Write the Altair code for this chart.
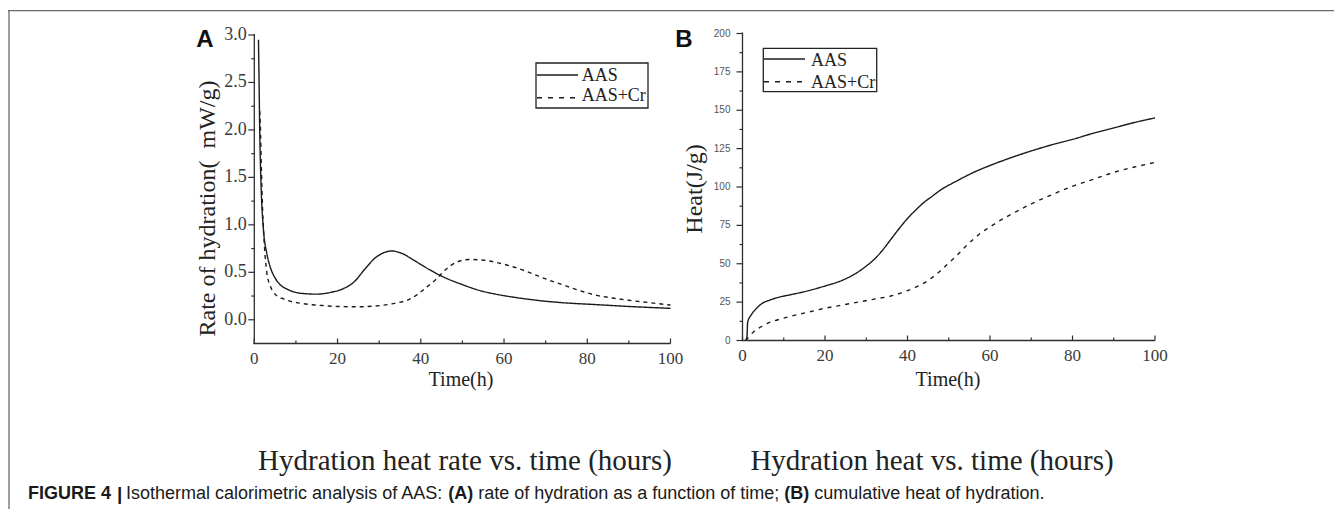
import altair as alt
import pandas as pd

# ---------------- data ----------------
series = ["AAS", "AAS+Cr"]

# Panel A: rate of hydration (mW/g) vs time (h)
a_aas_t = [1.0, 1.15, 1.3, 1.6, 2.2, 3.0, 3.8, 5.0, 6.2, 8.0, 11, 15, 18.5, 21.5, 24, 26.5,
           29, 31.3, 33, 35.4, 38.6, 42, 45, 50, 54, 58, 62, 66, 70, 74, 82, 90, 98.5, 100]
a_aas_v = [2.95, 2.5, 2.0, 1.45, 0.95, 0.70, 0.56, 0.44, 0.37, 0.32, 0.28, 0.27, 0.29, 0.33, 0.40, 0.53,
           0.65, 0.71, 0.725, 0.70, 0.62, 0.53, 0.46, 0.37, 0.31, 0.27, 0.24, 0.215, 0.195, 0.18, 0.16, 0.14, 0.123, 0.12]
a_cr_t = [1.3, 1.45, 1.7, 2.0, 2.4, 3.0, 3.8, 4.6, 5.5, 7, 9, 11, 14, 17, 20, 25, 29, 32, 34, 37, 39, 41,
          43.5, 46, 48.3, 51.6, 54.8, 58, 62, 66, 70, 74, 78, 82, 86, 90, 95, 100]
a_cr_v = [2.2, 2.05, 1.6, 1.15, 0.8, 0.5, 0.36, 0.29, 0.25, 0.22, 0.19, 0.175, 0.158, 0.148, 0.14, 0.137,
          0.145, 0.16, 0.176, 0.21, 0.26, 0.33, 0.42, 0.53, 0.60, 0.635, 0.63, 0.605, 0.56, 0.50, 0.43,
          0.37, 0.31, 0.26, 0.23, 0.205, 0.18, 0.155]

# Panel B: cumulative heat (J/g) vs time (h)
b_aas_t = [0.8, 1.1, 1.25, 2.1, 3.4, 4.9, 6.6, 9, 11.6, 15, 20, 24, 26, 28, 30, 32, 34, 36, 38, 40,
           42, 44, 46, 48, 52, 56, 60, 65, 70, 75, 80, 85, 90, 95, 100]
b_aas_v = [0, 3, 12, 16.6, 21, 24.4, 26.3, 28.3, 29.8, 31.8, 35.5, 39, 41.5, 44.6, 48.5, 53, 59, 66, 73, 79.5,
           85, 90, 94, 98, 104, 109.5, 114, 119, 123.5, 127.5, 131, 135, 138.5, 142, 145]
b_cr_t = [0.8, 1.6, 2.7, 4.4, 6.3, 8.2, 12, 16, 20, 24, 28, 32, 36, 40, 43, 46, 48, 50, 52, 54, 56, 58,
          60, 62, 65, 70, 75, 80, 85, 90, 95, 100]
b_cr_v = [0, 2.5, 5.7, 8.8, 11.5, 13.2, 16, 18.5, 21, 23, 25, 27, 29, 32.5, 36, 41, 45.5, 50.5, 55.5, 61, 66,
          70.5, 74, 77.5, 82, 89, 95, 100.5, 105, 109.5, 113, 116]

x_major = [0, 20, 40, 60, 80, 100]
x_minor = [10, 30, 50, 70, 90]
x_labels = ["0", "20", "40", "60", "80", "100"]
a_y_major = [0.0, 0.5, 1.0, 1.5, 2.0, 2.5, 3.0]
a_y_labels = ["0.0", "0.5", "1.0", "1.5", "2.0", "2.5", "3.0"]
a_y_minor = [0.25, 0.75, 1.25, 1.75, 2.25, 2.75]
b_y_major = [0, 25, 50, 75, 100, 125, 150, 175, 200]
b_y_labels = ["0", "25", "50", "75", "100", "125", "150", "175", "200"]
b_y_minor = [12.5, 37.5, 62.5, 87.5, 112.5, 137.5, 162.5, 187.5]

a_ytitle = "Rate of hydration(\u00a0\u00a0mW/g)"
b_ytitle = "Heat(J/g)"
xtitle = "Time(h)"
cap_a = "Hydration heat rate vs. time (hours)"
cap_b = "Hydration heat vs. time (hours)"
fig_parts = [("FIGURE 4", True), ("|", True), ("Isothermal calorimetric analysis of AAS:", False),
             ("(A)", True), ("rate of hydration as a function of time;", False), ("(B)", True),
             ("cumulative heat of hydration.", False)]

# ---------------- geometry / style ----------------
W, H = 1326, 501
SERIF = "Liberation Serif"
SANS = "Liberation Sans"
AX = "#2e2e2e"
LINE = "#1b1b1b"
DUMMY = pd.DataFrame({"k": [0]})

A = dict(x0=246.3, x1=662.5, yb=335.5, yt=27.0)
B = dict(x0=734.5, x1=1147.0, yb=332.5, yt=25.5)


def frame(t1, v1, t2, v2):
    return pd.DataFrame({"t": t1 + t2, "v": v1 + v2,
                         "s": [series[0]] * len(t1) + [series[1]] * len(t2)})


def panel(df, g, ydom, ymaj, ylabs, ymin, dash, yfont, ysize, ycolor, ygap):
    xs = alt.Scale(domain=[0, 100], range=[g["x0"], g["x1"]], nice=False, zero=False)
    ys = alt.Scale(domain=ydom, range=[g["yb"], g["yt"]], nice=False, zero=False)
    lines = alt.Chart(df).mark_line(color=LINE, strokeWidth=1.4, interpolate="monotone").encode(
        x=alt.X("t:Q", scale=xs, axis=None),
        y=alt.Y("v:Q", scale=ys, axis=None),
        strokeDash=alt.StrokeDash("s:N", scale=alt.Scale(domain=series, range=[[1, 0], dash]), legend=None),
    )
    rule = dict(color=AX, strokeWidth=1.2)
    # axis lines
    ydomain = alt.Chart(DUMMY).mark_rule(color=AX, strokeWidth=1.3).encode(
        x=alt.value(g["x0"]), y=alt.value(g["yb"]), y2=alt.value(g["yt"] - 1))
    xdomain = alt.Chart(DUMMY).mark_rule(color=AX, strokeWidth=1.3).encode(
        x=alt.value(g["x0"] - 1), x2=alt.value(g["x1"]), y=alt.value(g["yb"]))
    # ticks (x ticks point inward, y ticks outward)
    xdf = pd.DataFrame({"t": x_major, "lab": x_labels})
    xt_major = alt.Chart(xdf).mark_rule(**rule).encode(
        x=alt.X("t:Q", axis=None), y=alt.value(g["yb"]), y2=alt.value(g["yb"] - 5))
    xt_minor = alt.Chart(pd.DataFrame({"t": x_minor})).mark_rule(**rule).encode(
        x=alt.X("t:Q", axis=None), y=alt.value(g["yb"]), y2=alt.value(g["yb"] - 3))
    ydf = pd.DataFrame({"v": ymaj, "lab": ylabs})
    yt_major = alt.Chart(ydf).mark_rule(**rule).encode(
        y=alt.Y("v:Q", axis=None), x=alt.value(g["x0"] - 6), x2=alt.value(g["x0"]))
    yt_minor = alt.Chart(pd.DataFrame({"v": ymin})).mark_rule(**rule).encode(
        y=alt.Y("v:Q", axis=None), x=alt.value(g["x0"] - 3), x2=alt.value(g["x0"]))
    # tick labels
    xlab = alt.Chart(xdf).mark_text(font=SERIF, fontSize=17, color="#3a3a3a", baseline="top",
                                    align="center").encode(
        x=alt.X("t:Q", axis=None), y=alt.value(g["yb"] + 7.5), text="lab:N")
    ylab = alt.Chart(ydf).mark_text(font=yfont, fontSize=ysize, color=ycolor, baseline="middle",
                                    align="right").encode(
        y=alt.Y("v:Q", axis=None), x=alt.value(g["x0"] - ygap), text="lab:N")
    return alt.layer(lines, ydomain, xdomain, xt_major, xt_minor, yt_major, yt_minor, xlab, ylab)


def txt(s, x, y, size, font=SERIF, weight="normal", align="center", baseline="alphabetic",
        angle=None, color="#222222"):
    kw = dict(text=s, fontSize=size, font=font, fontWeight=weight, align=align, baseline=baseline, color=color)
    if angle is not None:
        kw["angle"] = angle
    return alt.Chart(DUMMY).mark_text(**kw).encode(x=alt.value(x), y=alt.value(y))


def hrule(x1, x2, y, color, width, dash=None):
    kw = dict(color=color, strokeWidth=width)
    if dash:
        kw["strokeDash"] = dash
    return alt.Chart(DUMMY).mark_rule(**kw).encode(x=alt.value(x1), x2=alt.value(x2), y=alt.value(y))


def vrule(x, y1, y2, color, width):
    return alt.Chart(DUMMY).mark_rule(color=color, strokeWidth=width).encode(
        x=alt.value(x), y=alt.value(y1), y2=alt.value(y2))


def box(x1, x2, y1, y2):
    return alt.Chart(DUMMY).mark_rect(fill="white", fillOpacity=0, stroke="#222222", strokeWidth=1.3).encode(
        x=alt.value(x1), x2=alt.value(x2), y=alt.value(y1), y2=alt.value(y2))


def legend(x1, x2, y1, y2, sx, sy1, sy2, tx, ty1, ty2, dash):
    return [box(x1, x2, y1, y2),
            hrule(sx, sx + 41, sy1, LINE, 1.4),
            hrule(sx, sx + 41, sy2, LINE, 1.4, dash),
            txt(series[0], tx, ty1, 18, align="left"),
            txt(series[1], tx, ty2, 18, align="left")]


# Helvetica/Arial advance widths (per 1000 em) for laying out the caption segments
REG = {" ": 278, "I": 278, "s": 500, "o": 556, "t": 278, "h": 556, "e": 556, "r": 333, "m": 833,
       "a": 556, "l": 222, "c": 500, "i": 222, "n": 556, "y": 500, "f": 278, "A": 667, "S": 667,
       ":": 278, ";": 278, "u": 556, "v": 500, "d": 556, ".": 278, "(": 333, ")": 333, "B": 667}
BOLD = {"F": 611, "I": 278, "G": 778, "U": 722, "R": 722, "E": 667, " ": 278, "4": 556,
        "(": 333, ")": 333, "A": 722, "B": 722, "|": 280}


def width(s, bold, size):
    tab = BOLD if bold else REG
    return sum(tab.get(ch, 556) for ch in s) * size / 1000.0


CAP_SIZE = 18
CAP_Y = 491
SPACE = 0.278 * CAP_SIZE
cap_layers = []
cx = 20
for s, bold in fig_parts:
    if s == "|":
        cx += 1
        cap_layers.append(txt(s, cx, CAP_Y + 1, CAP_SIZE + 1, font=SANS, weight="bold", align="left",
                              color="#1a1a1a"))
        cx += width(s, True, CAP_SIZE) + 4
        continue
    cap_layers.append(txt(s, cx, CAP_Y, CAP_SIZE, font=SANS, weight="bold" if bold else "normal",
                          align="left", color="#1a1a1a"))
    cx += width(s, bold, CAP_SIZE) + SPACE

panelA = panel(frame(a_aas_t, a_aas_v, a_cr_t, a_cr_v), A, [-0.25, 3.0], a_y_major, a_y_labels, a_y_minor,
               [4, 4], SERIF, 18, "#3a3a3a", 7.5)
panelB = panel(frame(b_aas_t, b_aas_v, b_cr_t, b_cr_v), B, [0, 200], b_y_major, b_y_labels, b_y_minor,
               [4, 5], SANS, 10, "#555555", 12)

annotations = [
    hrule(0, W, 2.7, "#6b6b6b", 1.3),
    vrule(1, 2.7, H, "#6b6b6b", 1.3),
    txt("A", 197, 38.7, 24, font=SANS, weight="bold", color="#111111"),
    txt("B", 676, 38.7, 24, font=SANS, weight="bold", color="#111111"),
    txt(a_ytitle, 199.5, 200.5, 24, angle=270, baseline="middle"),
    txt(b_ytitle, 687, 181, 24, angle=270, baseline="middle"),
    txt(xtitle, 453, 378, 20),
    txt(xtitle, 940, 378, 20),
    txt(cap_a, 457, 462, 29),
    txt(cap_b, 924, 462, 29),
] + legend(528, 640, 55, 100, 529, 67, 89.7, 573.7, 73, 93, [5, 6]) \
  + legend(755.3, 868.7, 40.3, 83.7, 756, 51, 73.7, 803, 57.7, 79.7, [5, 6]) \
  + cap_layers

chart = alt.layer(panelA, panelB, *annotations).resolve_scale(
    x="independent", y="independent", strokeDash="independent"
).properties(
    width=W, height=H, padding=0, autosize=alt.AutoSizeParams(type="none")
).configure_view(stroke=None)

chart.save("out.html", embed_options={"renderer": "svg", "actions": False})
